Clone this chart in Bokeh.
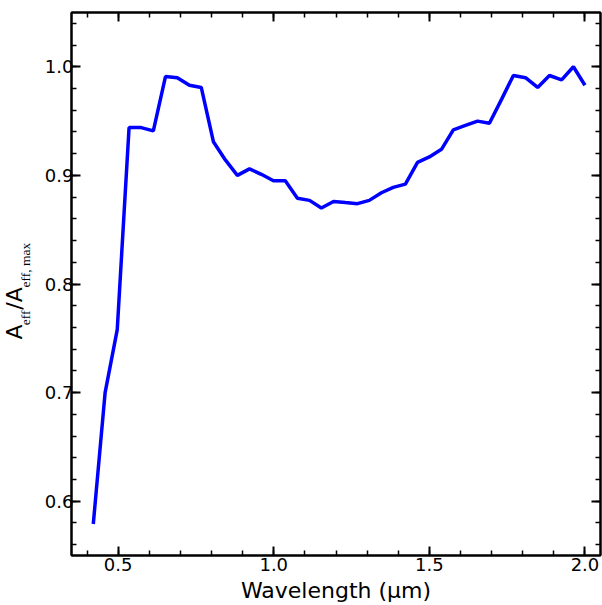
from bokeh.plotting import figure
from bokeh.models import LinearAxis, SingleIntervalTicker, Range1d, CustomJSTickFormatter, Title
from bokeh.embed import file_html
from bokeh.resources import INLINE

wavelength = [0.420, 0.458, 0.497, 0.535, 0.574, 0.613, 0.652, 0.690, 0.729, 0.767,
              0.806, 0.845, 0.883, 0.922, 0.960, 0.999, 1.037, 1.076, 1.115, 1.153,
              1.192, 1.230, 1.269, 1.307, 1.346, 1.384, 1.423, 1.462, 1.500, 1.539,
              1.577, 1.616, 1.655, 1.693, 1.732, 1.770, 1.809, 1.848, 1.886, 1.925,
              1.963, 2.000]
aeff_norm = [0.579, 0.700, 0.758, 0.944, 0.944, 0.941, 0.991, 0.990, 0.983, 0.981,
             0.931, 0.914, 0.900, 0.906, 0.901, 0.895, 0.895, 0.879, 0.877, 0.870,
             0.876, 0.875, 0.874, 0.877, 0.884, 0.889, 0.892, 0.912, 0.917, 0.924,
             0.942, 0.946, 0.950, 0.948, 0.970, 0.992, 0.990, 0.981, 0.992, 0.988,
             1.000, 0.983]

x_label = "Wavelength (μm)"
# y label: A_eff / A_eff,max  (main letters and subscripts drawn as two text runs)
y_label_main = "A\u2002\u2006/A"
y_label_sub = "eff\u2003\u2002\u2009eff, max"

FONT = "DejaVu Sans"
SERIF = "Liberation Serif"

p = figure(width=602, height=605, output_backend="svg", toolbar_location=None,
           x_range=Range1d(0.35, 2.05), y_range=Range1d(0.55, 1.05),
           min_border_left=71, min_border_right=2, min_border_top=12, min_border_bottom=49,
           x_axis_location=None, y_axis_location=None)

p.xgrid.visible = False
p.ygrid.visible = False
p.outline_line_color = "black"
p.outline_line_width = 2
p.background_fill_color = "white"
p.border_fill_color = "white"

p.line(wavelength, aeff_norm, line_color="#0000ff", line_width=3.5)


def make_axis(kind, show_labels):
    if kind == "x":
        ticker = SingleIntervalTicker(interval=0.5, num_minor_ticks=5)
    else:
        ticker = SingleIntervalTicker(interval=0.1, num_minor_ticks=5)
    ax = LinearAxis(ticker=ticker)
    ax.axis_line_color = "black"
    ax.axis_line_width = 2
    ax.major_tick_in = 9
    ax.major_tick_out = 0
    ax.minor_tick_in = 5
    ax.minor_tick_out = 0
    ax.major_tick_line_width = 2
    ax.minor_tick_line_width = 1.5
    ax.major_tick_line_color = "black"
    ax.minor_tick_line_color = "black"
    if show_labels:
        ax.formatter = CustomJSTickFormatter(code="return tick.toFixed(1)")
        ax.major_label_text_font = FONT
        ax.major_label_text_font_size = "18px"
        ax.major_label_text_color = "black"
        ax.major_label_standoff = -2 if kind == "y" else 2
    else:
        ax.formatter = CustomJSTickFormatter(code="return ''")
        ax.major_label_standoff = 0
    return ax


xb = make_axis("x", True)
xb.axis_label = x_label
xb.axis_label_text_font = FONT
xb.axis_label_text_font_size = "22px"
xb.axis_label_text_font_style = "normal"
xb.axis_label_text_color = "black"
xb.axis_label_standoff = 4
p.add_layout(xb, "below")
p.add_layout(make_axis("x", False), "above")

yl = make_axis("y", True)
yl.axis_label = y_label_sub
yl.axis_label_text_font = SERIF
yl.axis_label_text_font_size = "13.5px"
yl.axis_label_text_font_style = "normal"
yl.axis_label_text_color = "black"
yl.axis_label_standoff = 9
p.add_layout(yl, "left")
p.add_layout(make_axis("y", False), "right")

main_title = Title(text=y_label_main, align="left", vertical_align="middle",
                   offset=216, standoff=-39.5, text_font=FONT,
                   text_font_size="22px", text_font_style="normal", text_color="black")
p.add_layout(main_title, "left")

open("out.html", "w").write(file_html(p, INLINE))
